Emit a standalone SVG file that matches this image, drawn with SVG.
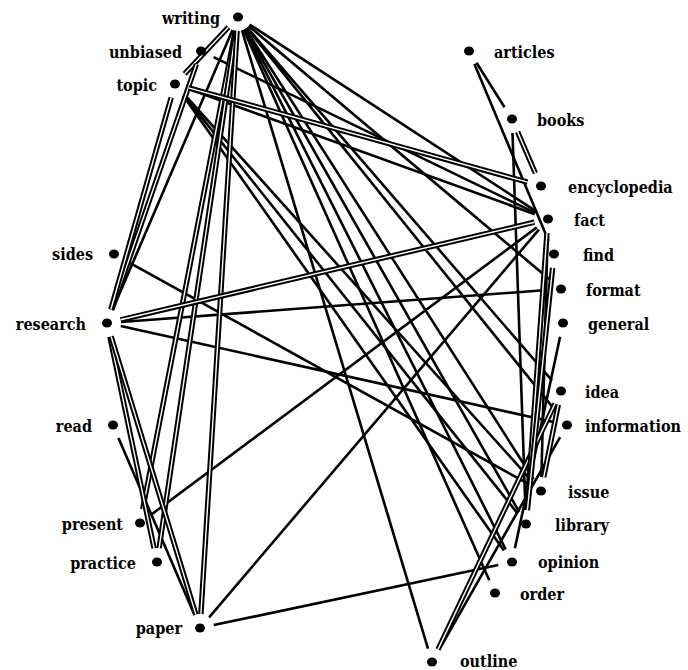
<svg xmlns="http://www.w3.org/2000/svg" width="688" height="670" viewBox="0 0 688 670">
<style>
.e{stroke:#000;stroke-width:2.6;fill:none;stroke-linecap:butt}
.dd{stroke:#000;stroke-width:5.4;fill:none}
.dw{stroke:#fff;stroke-width:1.4;fill:none}
.n ellipse{fill:#000}
.n text{font-family:"DejaVu Serif Condensed","DejaVu Serif",serif;font-stretch:condensed;font-weight:bold;font-size:16px;fill:#000}
.l text{text-anchor:end}
</style>
<rect width="688" height="670" fill="#fff"/>
<g id="connectors">
<line class="e" x1="232.5" y1="29.9" x2="112.5" y2="310.1"/>
<line class="e" x1="118.5" y1="437.9" x2="194.5" y2="615.1"/>
<line class="e" x1="151.2" y1="514.6" x2="536.8" y2="227.4"/>
<line class="e" x1="209.1" y1="617.3" x2="538.9" y2="229.7"/>
<line class="e" x1="213.7" y1="625.1" x2="498.3" y2="564.9"/>
<line class="e" x1="121" y1="322" x2="547" y2="290"/>
<line class="e" x1="120.7" y1="326" x2="553.3" y2="422"/>
<line class="e" x1="126.2" y1="260.8" x2="528.8" y2="484.2"/>
<line class="e" x1="476.5" y1="62.8" x2="504.5" y2="107.2"/>
<line class="e" x1="474.4" y1="63.9" x2="548.6" y2="241.1"/>
<line class="e" x1="512.5" y1="133" x2="525.5" y2="510"/>
<line class="e" x1="188.2" y1="88.8" x2="534.8" y2="214.2"/>
<line class="e" x1="213.6" y1="57.1" x2="535.4" y2="212.9"/>
<line class="e" x1="249.7" y1="24.6" x2="536.3" y2="211.4"/>
<line class="e" x1="248.7" y1="26" x2="550.3" y2="280"/>
<line class="e" x1="247.2" y1="27.6" x2="551.9" y2="380.4"/>
<line class="e" x1="246.8" y1="27.9" x2="558.2" y2="414.1"/>
<line class="e" x1="245.5" y1="28.8" x2="533.5" y2="479.2"/>
<line class="e" x1="244.9" y1="29.2" x2="519.1" y2="511.8"/>
<line class="e" x1="244.3" y1="29.5" x2="505.7" y2="549.5"/>
<line class="e" x1="243.7" y1="29.8" x2="489.3" y2="580.2"/>
<line class="e" x1="242" y1="30.4" x2="428" y2="648.6"/>
<line class="e" x1="183.7" y1="94.9" x2="517.3" y2="513.1"/>
<line class="e" x1="183.1" y1="95.4" x2="503.9" y2="550.6"/>
<line class="e" x1="184.4" y1="94.4" x2="531.6" y2="480.6"/>
<line class="e" x1="560.1" y1="336.7" x2="514.9" y2="548.3"/>
<line class="e" x1="560.1" y1="437.2" x2="439.1" y2="649.8"/>
<line class="e" x1="547.6" y1="233" x2="541.4" y2="477"/>
<g id="double-edges">
<line class="dd" x1="228.4" y1="27.2" x2="184.6" y2="73.8"/><line class="dw" x1="228.4" y1="27.2" x2="184.6" y2="73.8"/>
<line class="dd" x1="196.4" y1="64.2" x2="111.6" y2="309.8"/><line class="dw" x1="196.4" y1="64.2" x2="111.6" y2="309.8"/>
<line class="dd" x1="171.2" y1="97.5" x2="110.8" y2="309.5"/><line class="dw" x1="171.2" y1="97.5" x2="110.8" y2="309.5"/>
<line class="dd" x1="235.3" y1="30.7" x2="142.7" y2="509.3"/><line class="dw" x1="235.3" y1="30.7" x2="142.7" y2="509.3"/>
<line class="dd" x1="235.9" y1="30.9" x2="159.1" y2="548.2"/><line class="dw" x1="235.9" y1="30.9" x2="159.1" y2="548.2"/>
<line class="dd" x1="237.1" y1="31" x2="200.9" y2="614"/><line class="dw" x1="237.1" y1="31" x2="200.9" y2="614"/>
<line class="dd" x1="109.9" y1="336.7" x2="154.1" y2="548.3"/><line class="dw" x1="109.9" y1="336.7" x2="154.1" y2="548.3"/>
<line class="dd" x1="111.1" y1="336.4" x2="195.9" y2="614.6"/><line class="dw" x1="111.1" y1="336.4" x2="195.9" y2="614.6"/>
<line class="dd" x1="120.6" y1="319.8" x2="534.4" y2="222.2"/><line class="dw" x1="120.6" y1="319.8" x2="534.4" y2="222.2"/>
<line class="dd" x1="517.6" y1="131.9" x2="535.4" y2="173.2"/><line class="dw" x1="517.6" y1="131.9" x2="535.4" y2="173.2"/>
<line class="dd" x1="188.5" y1="87.8" x2="527.5" y2="182.2"/><line class="dw" x1="188.5" y1="87.8" x2="527.5" y2="182.2"/>
<line class="dd" x1="558.3" y1="404.7" x2="543.7" y2="477.3"/><line class="dw" x1="558.3" y1="404.7" x2="543.7" y2="477.3"/>
<line class="dd" x1="555" y1="403.6" x2="438" y2="649.4"/><line class="dw" x1="555" y1="403.6" x2="438" y2="649.4"/>
<line class="dd" x1="547" y1="233" x2="527" y2="510"/><line class="dw" x1="547" y1="233" x2="527" y2="510"/>
<line class="dd" x1="552.6" y1="267.9" x2="527.4" y2="510.1"/><line class="dw" x1="552.6" y1="267.9" x2="527.4" y2="510.1"/>
</g>
</g>
<g class="n l" id="writing"><ellipse cx="238" cy="17" rx="5" ry="4.5"/><text x="220" y="24">writing</text></g>
<g class="n l" id="unbiased"><ellipse cx="201" cy="51" rx="5" ry="4.5"/><text x="182" y="58">unbiased</text></g>
<g class="n l" id="topic"><ellipse cx="175" cy="84" rx="5" ry="4.5"/><text x="157" y="91">topic</text></g>
<g class="n l" id="sides"><ellipse cx="114" cy="254" rx="5" ry="4.5"/><text x="93" y="260">sides</text></g>
<g class="n l" id="research"><ellipse cx="107" cy="323" rx="5" ry="4.5"/><text x="86" y="330">research</text></g>
<g class="n l" id="read"><ellipse cx="113" cy="425" rx="5" ry="4.5"/><text x="92" y="432">read</text></g>
<g class="n l" id="present"><ellipse cx="140" cy="523" rx="5" ry="4.5"/><text x="123" y="530">present</text></g>
<g class="n l" id="practice"><ellipse cx="157" cy="562" rx="5" ry="4.5"/><text x="136" y="569">practice</text></g>
<g class="n l" id="paper"><ellipse cx="200" cy="628" rx="5" ry="4.5"/><text x="182" y="634">paper</text></g>
<g class="n" id="articles"><ellipse cx="469" cy="51" rx="5" ry="4.5"/><text x="494" y="58">articles</text></g>
<g class="n" id="books"><ellipse cx="512" cy="119" rx="5" ry="4.5"/><text x="537" y="126">books</text></g>
<g class="n" id="encyclopedia"><ellipse cx="541" cy="186" rx="5" ry="4.5"/><text x="568" y="193">encyclopedia</text></g>
<g class="n" id="fact"><ellipse cx="548" cy="219" rx="5" ry="4.5"/><text x="574" y="226">fact</text></g>
<g class="n" id="find"><ellipse cx="554" cy="254" rx="5" ry="4.5"/><text x="583" y="261">find</text></g>
<g class="n" id="format"><ellipse cx="561" cy="289" rx="5" ry="4.5"/><text x="586" y="296">format</text></g>
<g class="n" id="general"><ellipse cx="563" cy="323" rx="5" ry="4.5"/><text x="588" y="330">general</text></g>
<g class="n" id="idea"><ellipse cx="561" cy="391" rx="5" ry="4.5"/><text x="585" y="398">idea</text></g>
<g class="n" id="information"><ellipse cx="567" cy="425" rx="5" ry="4.5"/><text x="585" y="432">information</text></g>
<g class="n" id="issue"><ellipse cx="541" cy="491" rx="5" ry="4.5"/><text x="568" y="498">issue</text></g>
<g class="n" id="library"><ellipse cx="526" cy="524" rx="5" ry="4.5"/><text x="555" y="531">library</text></g>
<g class="n" id="opinion"><ellipse cx="512" cy="562" rx="5" ry="4.5"/><text x="538" y="568">opinion</text></g>
<g class="n" id="order"><ellipse cx="495" cy="593" rx="5" ry="4.5"/><text x="520" y="600">order</text></g>
<g class="n" id="outline"><ellipse cx="432" cy="662" rx="5" ry="4.5"/><text x="460" y="667">outline</text></g>
</svg>
